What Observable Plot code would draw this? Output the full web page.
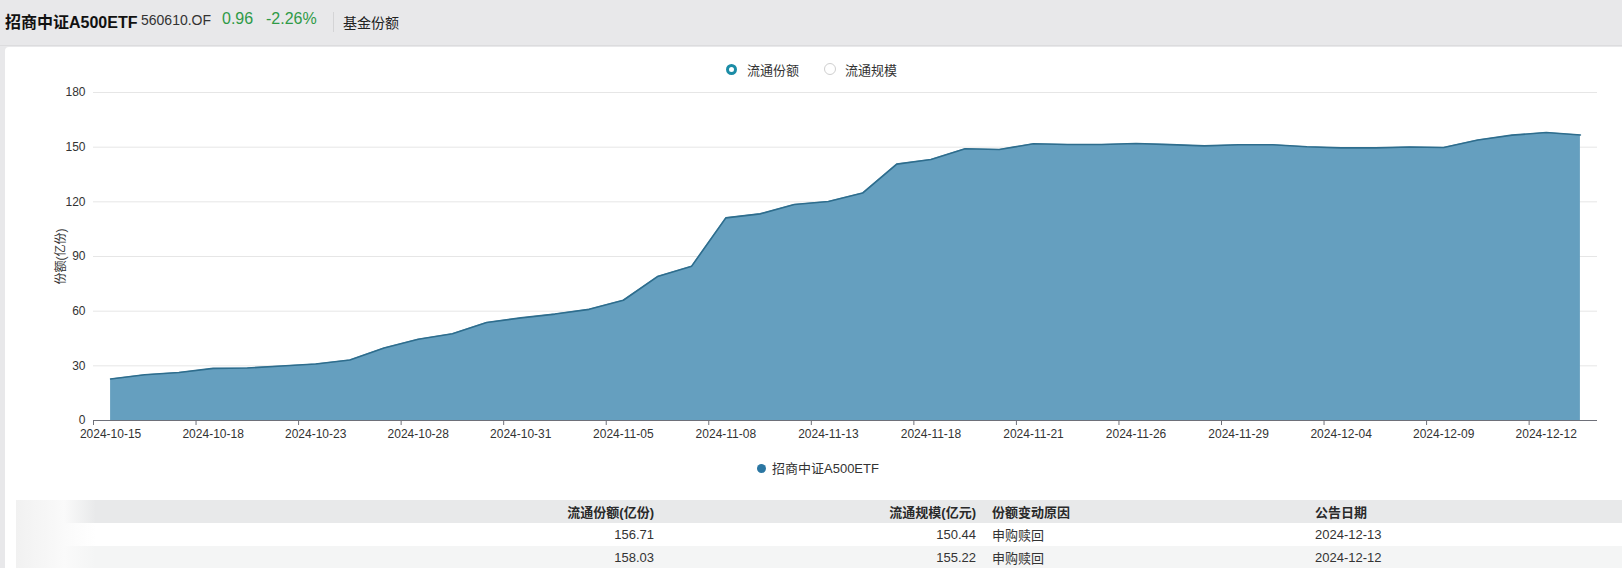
<!DOCTYPE html>
<html>
<head>
<meta charset="utf-8">
<script src="https://cdn.jsdelivr.net/npm/d3@7"></script>
<script src="https://cdn.jsdelivr.net/npm/@observablehq/plot@0.6"></script>
<style>
  html, body { margin: 0; padding: 0; }
  body { width: 1622px; height: 568px; overflow: hidden; background: #e8e8ea; position: relative;
         font-family: "Liberation Sans", "Noto Sans CJK SC", sans-serif; color: #333; }
  #header { position: absolute; left: 0; top: 0; width: 1622px; height: 45px; border-bottom: 1px solid #dcdcde; }
  #header span { position: absolute; top: 11px; white-space: nowrap; }
  #panel { position: absolute; left: 5px; top: 47px; width: 1617px; height: 521px; background: #fff; border-radius: 4px 0 0 0; }
  #legendTop { position: absolute; top: 60px; left: 0; width: 1622px; font-size: 13px; color: #333; }
  .radio { position: absolute; top: 3px; width: 9px; height: 9px; border-radius: 50%; box-sizing: content-box; }
  #chart { position: absolute; left: 0; top: 80px; }
  #legendBottom { position: absolute; top: 458px; left: 757px; font-size: 13px; color: #333; white-space: nowrap; }
  #legendBottom i { display: inline-block; width: 9px; height: 9px; border-radius: 50%; background: #2b76a2; margin-right: 6px; vertical-align: 0px; }
  table { position: absolute; left: 16px; top: 500px; width: 1606px; border-collapse: collapse; table-layout: fixed; font-size: 13px; color: #333; }
  td, th { height: 23px; padding: 0; font-weight: normal; white-space: nowrap; }
  th { font-weight: bold; color: #2a2a2a; }
  thead tr { background: #e8e9ea; }
  tbody tr:nth-child(2) { background: #f4f5f5; }
  .blur { background: linear-gradient(90deg, #f1f1f1 0%, #fafafa 60%, rgba(255,255,255,0) 100%); }
</style>
</head>
<body>
<div id="header">
  <span style="left:5px; top:9px; font-size:16px; font-weight:bold; color:#111;">招商中证A500ETF</span>
  <span style="left:141px; top:12px; font-size:14px; color:#333;">560610.OF</span>
  <span style="left:222px; top:10px; font-size:16px; color:#2f9a47;">0.96</span>
  <span style="left:266px; top:10px; font-size:16px; color:#2f9a47;">-2.26%</span>
  <span style="left:333px; top:12px; width:1px; height:20px; background:#d4d4d6;"></span>
  <span style="left:343px; top:12px; font-size:14px; color:#222;">基金份额</span>
</div>
<div id="panel"></div>
<div id="legendTop">
  <span class="radio" style="left:726px; border:3px solid #1b8ca6; width:5px; height:5px; top:4px;"></span>
  <span style="position:absolute; left:747px;">流通份额</span>
  <span class="radio" style="left:824px; border:1px solid #cfcfcf; width:10px; height:10px;"></span>
  <span style="position:absolute; left:845px;">流通规模</span>
</div>
<div id="chart"></div>
<div id="legendBottom"><i></i>招商中证A500ETF</div>
<table>
  <colgroup><col style="width:80px"><col style="width:558px"><col style="width:322px"><col style="width:339px"><col></colgroup>
  <thead><tr>
    <th class="blur"></th>
    <th style="text-align:right;">流通份额(亿份)</th>
    <th style="text-align:right;">流通规模(亿元)</th>
    <th style="text-align:left; padding-left:16px;">份额变动原因</th>
    <th style="text-align:left;">公告日期</th>
  </tr></thead>
  <tbody id="tbody"></tbody>
</table>
<script>
const dates = [
  "2024-10-15","2024-10-16","2024-10-17","2024-10-18","2024-10-21","2024-10-22","2024-10-23","2024-10-24","2024-10-25",
  "2024-10-28","2024-10-29","2024-10-30","2024-10-31","2024-11-01","2024-11-04","2024-11-05","2024-11-06","2024-11-07",
  "2024-11-08","2024-11-11","2024-11-12","2024-11-13","2024-11-14","2024-11-15","2024-11-18","2024-11-19","2024-11-20",
  "2024-11-21","2024-11-22","2024-11-25","2024-11-26","2024-11-27","2024-11-28","2024-11-29","2024-12-02","2024-12-03",
  "2024-12-04","2024-12-05","2024-12-06","2024-12-09","2024-12-10","2024-12-11","2024-12-12","2024-12-13"
];
const shares = [
  22.8, 25.1, 26.3, 28.6, 28.8, 29.9, 31.0, 33.2, 39.8,
  44.6, 47.6, 53.8, 56.3, 58.4, 61.0, 66.0, 79.0, 84.7,
  111.2, 113.4, 118.5, 120.2, 124.8, 140.7, 143.2, 149.1, 148.7,
  151.9, 151.5, 151.5, 152.0, 151.4, 150.7, 151.3, 151.3, 150.2,
  149.6, 149.6, 150.1, 149.8, 153.9, 156.6, 158.03, 156.71
];
const yTicks = [0, 30, 60, 90, 120, 150, 180];
const xLabelEvery = 3;
const tableDates = ["2024-12-13", "2024-12-12"];
const tableShares = ["156.71", "158.03"];
const tableScale = ["150.44", "155.22"];
const tableReason = ["申购赎回", "申购赎回"];

const data = dates.map((d, i) => ({i, date: d, v: shares[i]}));
const labelIdx = dates.map((d, i) => i).filter(i => i % xLabelEvery === 0);
const boundaryIdx = [-0.5, ...labelIdx.map(i => i + xLabelEvery - 0.5).filter(b => b <= dates.length - 0.5)];

const chart = Plot.plot({
  width: 1622,
  height: 370,
  marginLeft: 93,
  marginRight: 25,
  marginTop: 12,
  marginBottom: 30,
  style: {fontFamily: '"Liberation Sans", "Noto Sans CJK SC", sans-serif', fontSize: "12px", color: "#333", background: "transparent"},
  x: {type: "linear", domain: [-0.5, dates.length - 0.5]},
  y: {domain: [0, 180]},
  marks: [
    Plot.gridY(yTicks, {stroke: "#e6e6e6", strokeOpacity: 1}),
    Plot.areaY(data, {x: "i", y: "v", fill: "#659fbf", curve: "linear"}),
    Plot.lineY(data, {x: "i", y: "v", stroke: "#2e6d8d", strokeWidth: 1.6}),
    Plot.ruleY([0], {stroke: "#6e7079"}),
    Plot.axisY({ticks: yTicks, tickSize: 0, tickPadding: 8, fill: "#333",
      label: "份额(亿份)", labelAnchor: "center", labelArrow: "none", labelOffset: 37}),
    Plot.axisX({ticks: labelIdx, tickSize: 0, tickPadding: 9, tickFormat: i => dates[i], fill: "#333", label: null}),
    Plot.axisX({ticks: boundaryIdx, tickSize: 5, tickFormat: () => "", stroke: "#6e7079", label: null})
  ]
});
document.getElementById("chart").appendChild(chart);

const tb = document.getElementById("tbody");
tableDates.forEach((d, k) => {
  const tr = document.createElement("tr");
  tr.innerHTML = `<td class="blur"></td><td style="text-align:right">${tableShares[k]}</td>` +
    `<td style="text-align:right">${tableScale[k]}</td><td style="padding-left:16px">${tableReason[k]}</td><td>${d}</td>`;
  tb.appendChild(tr);
});
</script>
</body>
</html>
